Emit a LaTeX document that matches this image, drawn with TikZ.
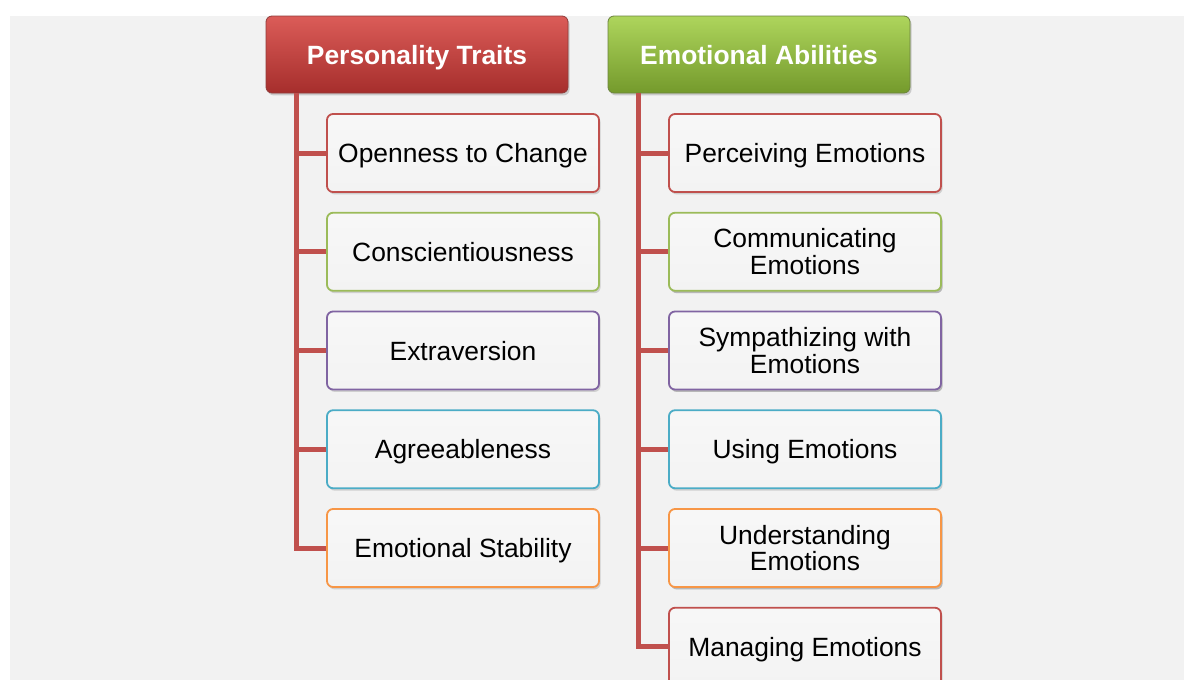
\documentclass[tikz,border=0pt]{standalone}
\usepackage{fontspec}
\setmainfont{Liberation Sans}
\usetikzlibrary{shadows}

\definecolor{bggray}{RGB}{242,242,242}
\definecolor{boxgray}{RGB}{243,243,243}
\definecolor{accRed}{RGB}{192,80,77}
\definecolor{accGreen}{RGB}{155,187,89}
\definecolor{accPurple}{RGB}{128,100,162}
\definecolor{accAqua}{RGB}{75,172,198}
\definecolor{accOrange}{RGB}{247,150,70}

\begin{document}
\begin{tikzpicture}[x=0.5pt,y=-0.5pt,
    head/.style={rounded corners=3pt, minimum width=151pt, minimum height=38.5pt,
        text=white, text depth=0pt, font=\bfseries\fontsize{13.2}{15}\selectfont,
        drop shadow={shadow xshift=0.8pt, shadow yshift=-1.2pt, opacity=0.35}},
    item/.style={rounded corners=3pt, line width=0.9pt, minimum width=136pt,
        minimum height=39pt, align=center, top color=white!97!black,
        bottom color=boxgray, font=\fontsize{13.2}{13.4}\selectfont,
        drop shadow={shadow xshift=0.8pt, shadow yshift=-1.2pt, opacity=0.3}},
    single/.style={text depth=0pt},
    trunk/.style={line width=2.5pt, draw=accRed}]

    \useasboundingbox (0,0) rectangle (1184,680);
    \fill[bggray] (10,16) rectangle (1184,680);

    % headers
    \node[head, draw=accRed!75!black, top color={rgb,255:red,219;green,92;blue,88},
        bottom color={rgb,255:red,166;green,46;blue,44}] (pt) at (417,54.5) {Personality Traits};
    \node[head, draw=accGreen!70!black, top color={rgb,255:red,174;green,213;blue,92},
        bottom color={rgb,255:red,116;green,154;blue,44}] (ea) at (759,54.5) {Emotional Abilities};

    % left column
    \foreach \c/\t [count=\i] in {accRed/{Openness to Change}, accGreen/{Conscientiousness},
        accPurple/{Extraversion}, accAqua/{Agreeableness}, accOrange/{Emotional Stability}}{
        \node[item, single, draw=\c] (l\i) at (463,{153+98.75*(\i-1)}) {\t};
        \draw[trunk] ([xshift=15.5pt]pt.south west) |- (l\i.west);
    }

    % right column
    \foreach \c/\s/\t [count=\i] in {accRed/single/{Perceiving Emotions},
        accGreen/item/{Communicating\\Emotions}, accPurple/item/{Sympathizing with\\Emotions},
        accAqua/single/{Using Emotions}, accOrange/item/{Understanding\\Emotions},
        accRed/single/{Managing Emotions}}{
        \node[item, \s, draw=\c] (r\i) at (805,{153+98.75*(\i-1)}) {\t};
        \draw[trunk] ([xshift=15.5pt]ea.south west) |- (r\i.west);
    }

\end{tikzpicture}
\end{document}
